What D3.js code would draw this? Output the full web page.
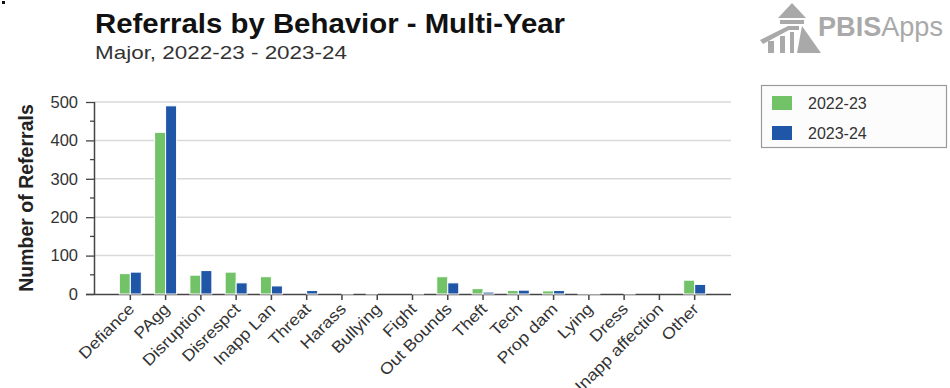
<!DOCTYPE html>
<html>
<head>
<meta charset="utf-8">
<script src="https://cdn.jsdelivr.net/npm/d3@7"></script>
<style>
  html, body { margin: 0; padding: 0; background: #fff; }
  svg { display: block; font-family: "Liberation Sans", Arial, sans-serif; }
</style>
</head>
<body>
<svg id="chart" width="950" height="388"></svg>
<script>
// Referral counts per behavior, one array per school year
const categories = ["Defiance", "PAgg", "Disruption", "Disrespct", "Inapp Lan", "Threat", "Harass",
  "Bullying", "Fight", "Out Bounds", "Theft", "Tech", "Prop dam", "Lying", "Dress", "Inapp affection", "Other"];
const values2022 = [53, 421, 49, 57, 45, 0, 0, 2, 0, 45, 14, 9, 8, 2, 0, 0, 36];
const values2023 = [57, 490, 61, 29, 21, 9, 2, 0, 2, 29, 5, 10, 9, 2, 2, 0, 25];
const seriesNames = ["2022-23", "2023-24"];
const seriesColors = ["#72c268", "#1f56a8"];
const yTicks = [0, 100, 200, 300, 400, 500];

const svg = d3.select("#chart");

// plot area
const plotL = 94, plotR = 731, plotT = 102, plotB = 294;

const x = d3.scaleBand().domain(categories).range([plotL, plotR]).paddingInner(0).paddingOuter(0.53);
const y = d3.scaleLinear().domain([0, 500]).range([plotB, plotT]);

// corner mark
svg.append("rect").attr("x", 2).attr("y", 1).attr("width", 3).attr("height", 3).attr("fill", "#111");

// titles
svg.append("text").attr("x", 95).attr("y", 33)
  .attr("font-size", 27).attr("font-weight", "bold").attr("fill", "#111")
  .attr("textLength", 470).attr("lengthAdjust", "spacingAndGlyphs")
  .text("Referrals by Behavior - Multi-Year");
svg.append("text").attr("x", 95).attr("y", 59)
  .attr("font-size", 19).attr("fill", "#333")
  .attr("textLength", 252).attr("lengthAdjust", "spacingAndGlyphs")
  .text("Major, 2022-23 - 2023-24");

// logo
const logo = svg.append("g").attr("fill", "#a9a9a9");
logo.append("path").attr("d", "M792,3 L806,18 L778,18 Z");
logo.append("rect").attr("x", 780).attr("y", 20).attr("width", 24).attr("height", 4);
logo.append("path").attr("d", "M760,40 L788,26 L799,26 L799,30 L789,30 L763,44 Z");
logo.append("rect").attr("x", 768).attr("y", 41).attr("width", 6).attr("height", 12);
logo.append("rect").attr("x", 780).attr("y", 36).attr("width", 5).attr("height", 17);
logo.append("rect").attr("x", 790).attr("y", 32).attr("width", 4).attr("height", 21);
logo.append("path").attr("d", "M802,26 L821,53 L797,53 Z");
const logoText = svg.append("text").attr("x", 818).attr("y", 36).attr("font-size", 28)
  .attr("fill", "#a9a9a9").attr("textLength", 125).attr("lengthAdjust", "spacingAndGlyphs");
logoText.append("tspan").attr("font-weight", "bold").text("PBIS");
logoText.append("tspan").text("Apps");

// horizontal gridlines
svg.append("g").selectAll("line").data(yTicks.filter(d => d > 0)).join("line")
  .attr("x1", plotL).attr("x2", plotR)
  .attr("y1", d => y(d)).attr("y2", d => y(d))
  .attr("stroke", "#d9d9d9").attr("stroke-width", 1.5);

// y axis: major ticks at labels, minor ticks halfway
const yAxis = d3.axisLeft(y).tickValues(yTicks).tickSize(8).tickPadding(8);
const yg = svg.append("g").attr("transform", `translate(${plotL},0)`).call(yAxis);
yg.select(".domain").attr("stroke", "#444").attr("stroke-width", 1.5).attr("d", `M0.5,${plotT}V${plotB}`);
yg.selectAll(".tick line").attr("stroke", "#444").attr("stroke-width", 1.3);
yg.selectAll("text").attr("font-size", 16.5).attr("fill", "#333")
  .attr("font-family", "Liberation Sans, Arial, sans-serif");
svg.append("g").selectAll("line").data(d3.range(50, 501, 100)).join("line")
  .attr("x1", plotL - 4).attr("x2", plotL)
  .attr("y1", d => y(d)).attr("y2", d => y(d))
  .attr("stroke", "#444").attr("stroke-width", 1.3);

svg.append("text")
  .attr("transform", `translate(33,198) rotate(-90)`)
  .attr("text-anchor", "middle").attr("font-size", 19.5).attr("font-weight", "bold").attr("fill", "#222")
  .text("Number of Referrals");

// x baseline and category ticks
const xAxis = d3.axisBottom(x).tickSize(6).tickSizeOuter(0).tickFormat("");
const xg = svg.append("g").attr("transform", `translate(0,${plotB})`).call(xAxis);
xg.select(".domain").attr("stroke", "#444").attr("stroke-width", 1.5)
  .attr("d", `M${plotL - 8},0.5H${plotR}`);
xg.selectAll(".tick line").attr("stroke", "#444").attr("stroke-width", 1.5);

// rotated category labels, slightly widened along the baseline
svg.append("g").selectAll("text").data(categories).join("text")
  .attr("transform", d => `translate(${x(d) + x.bandwidth() / 2 + 5},${plotB + 16}) rotate(-45) scale(1.12,1)`)
  .attr("text-anchor", "end").attr("font-size", 16).attr("fill", "#333")
  .text(d => d);

// grouped bars
const barW = 11;
const series = [values2022, values2023];
series.forEach((vals, i) => {
  svg.append("g").selectAll("rect").data(categories).join("rect")
    .attr("x", (d, j) => x(d) + x.bandwidth() / 2 - barW + i * barW)
    .attr("y", (d, j) => y(vals[j]))
    .attr("width", barW)
    .attr("height", (d, j) => plotB - y(vals[j]))
    .attr("fill", seriesColors[i])
    .attr("stroke", "#fff").attr("stroke-width", 1);
});

// legend
const lg = svg.append("g");
lg.append("rect").attr("x", 761.5).attr("y", 85.5).attr("width", 185).attr("height", 62)
  .attr("fill", "#fcfcfc").attr("stroke", "#9a9a9a").attr("stroke-width", 1.2);
seriesNames.forEach((name, i) => {
  lg.append("rect").attr("x", 772).attr("y", 96 + i * 30).attr("width", 20).attr("height", 14)
    .attr("fill", seriesColors[i]);
  lg.append("text").attr("x", 808).attr("y", 109 + i * 30).attr("font-size", 16).attr("fill", "#333")
    .text(name);
});
</script>
</body>
</html>
